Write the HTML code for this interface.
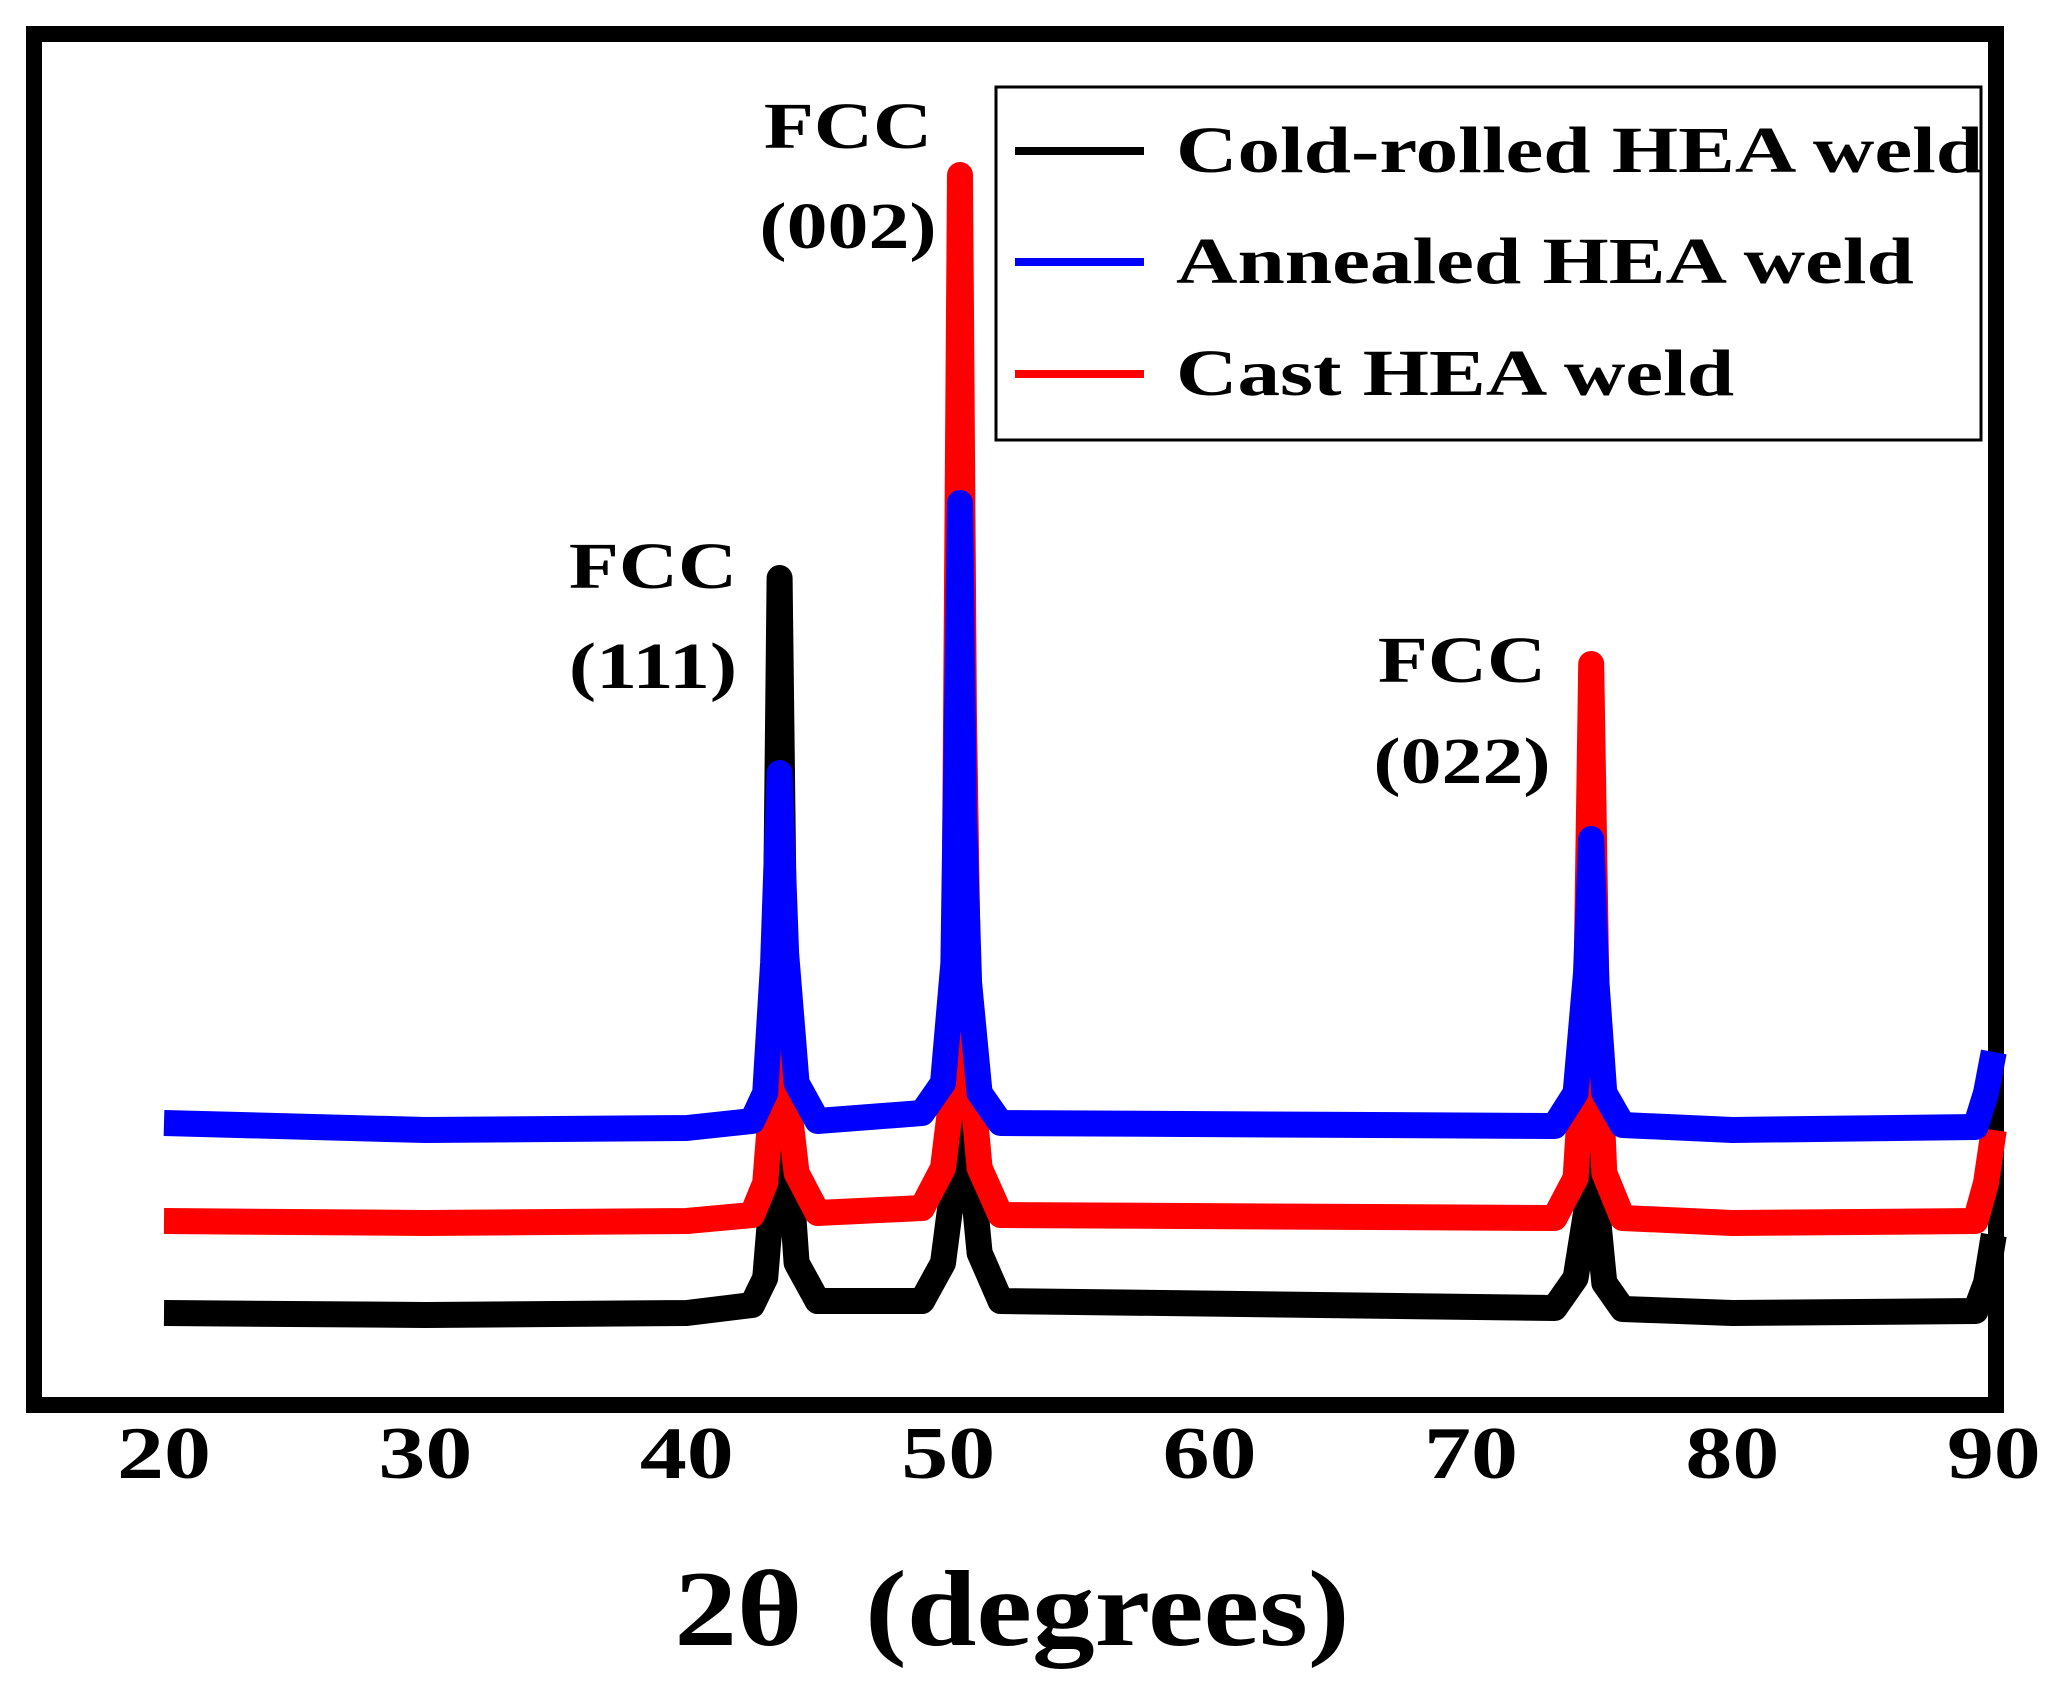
<!DOCTYPE html>
<html><head><meta charset="utf-8"><style>
html,body{margin:0;padding:0;background:#fff;}
svg{display:block;}
text{font-family:"Liberation Serif",serif;font-weight:bold;fill:#000;}
</style></head><body>
<svg id="chart" width="2061" height="1689" viewBox="0 0 2061 1689">
<rect x="34" y="34" width="1962" height="1371" fill="none" stroke="#000" stroke-width="16"/>
<g id="series"></g>
<g id="ticks"></g>
<text transform="translate(1012,1645) scale(1.16,1)" font-size="108" text-anchor="middle">2θ&#160; (degrees)</text>
<g>
<text transform="translate(653,588) scale(1.24,1)" font-size="66" text-anchor="middle">FCC</text>
<text transform="translate(653,688) scale(1.24,1)" font-size="66" text-anchor="middle">(111)</text></g>
<g>
<text transform="translate(848,148) scale(1.24,1)" font-size="66" text-anchor="middle">FCC</text>
<text transform="translate(848,248) scale(1.24,1)" font-size="66" text-anchor="middle">(002)</text></g>
<g>
<text transform="translate(1462,682) scale(1.24,1)" font-size="66" text-anchor="middle">FCC</text>
<text transform="translate(1462,783) scale(1.24,1)" font-size="66" text-anchor="middle">(022)</text></g>
<g>
<rect x="996" y="87" width="985" height="353" fill="#fff" stroke="#000" stroke-width="3"/>
<g><line x1="1015" y1="151" x2="1144" y2="151" stroke="#000" stroke-width="8"/><text transform="translate(1176,172) scale(1.29,1)" font-size="66">Cold-rolled HEA weld</text></g>
<g><line x1="1015" y1="262" x2="1144" y2="262" stroke="#0000ff" stroke-width="8"/><text transform="translate(1176,283) scale(1.29,1)" font-size="66">Annealed HEA weld</text></g>
<g><line x1="1015" y1="374" x2="1144" y2="374" stroke="#ff0000" stroke-width="8"/><text transform="translate(1176,395) scale(1.29,1)" font-size="66">Cast HEA weld</text></g>
</g>
</svg>
<script>
const twoTheta = [20, 30, 40, 42.5, 43.0, 43.3, 43.55, 43.8, 44.2, 45, 49.0, 49.8, 50.2, 50.45, 50.6, 50.8, 51.2, 52, 73.2, 74.0, 74.4, 74.6, 74.8, 75.1, 75.8, 80, 89.3, 89.7, 90];
const coldRolled = [100, 98, 100, 108, 135, 230, 835, 300, 150, 112, 112, 150, 230, 330, 361, 270, 160, 112, 105, 135, 200, 276, 210, 130, 104, 100, 102, 130, 178];
const annealed = [290, 283, 285, 292, 320, 450, 640, 460, 330, 292, 300, 330, 450, 910, 600, 430, 320, 290, 287, 320, 440, 574, 430, 320, 288, 283, 286, 320, 361];
const cast = [192, 190, 192, 198, 230, 330, 447, 330, 240, 200, 205, 245, 330, 1238, 700, 360, 245, 198, 195, 235, 400, 749, 420, 240, 195, 190, 192, 230, 283];
const xTicks = [20, 30, 40, 50, 60, 70, 80, 90];
const xTickLabels = ["20", "30", "40", "50", "60", "70", "80", "90"];
function xScale(v){ return 164 + (v - 20) * 26.14; }
function yScale(v){ return 1413 - v; }
const NS = "http://www.w3.org/2000/svg";
const sg = document.getElementById("series");
function drawSeries(vals, color, name){
  const p = document.createElementNS(NS, "path");
  let d = "";
  for (let i = 0; i < twoTheta.length; i++) {
    d += (i ? "L" : "M") + xScale(twoTheta[i]).toFixed(1) + "," + yScale(vals[i]).toFixed(1);
  }
  p.setAttribute("d", d);
  p.setAttribute("fill", "none");
  p.setAttribute("stroke", color);
  p.setAttribute("stroke-width", "26");
  p.setAttribute("stroke-linejoin", "round");
  p.setAttribute("stroke-linecap", "butt");
  
  
  sg.appendChild(p);
}
drawSeries(coldRolled, "#000000", "series-cold-rolled");
drawSeries(cast, "#ff0000", "series-cast");
drawSeries(annealed, "#0000ff", "series-annealed");
const tg = document.getElementById("ticks");
for (let i = 0; i < xTicks.length; i++) {
  const t = document.createElementNS(NS, "text");
  t.setAttribute("transform", "translate(" + xScale(xTicks[i]) + ",1478) scale(1.27,1)");
  t.setAttribute("font-size", "74");
  t.setAttribute("text-anchor", "middle");
  t.textContent = xTickLabels[i];
  
  
  tg.appendChild(t);
}
</script>
</body></html>
